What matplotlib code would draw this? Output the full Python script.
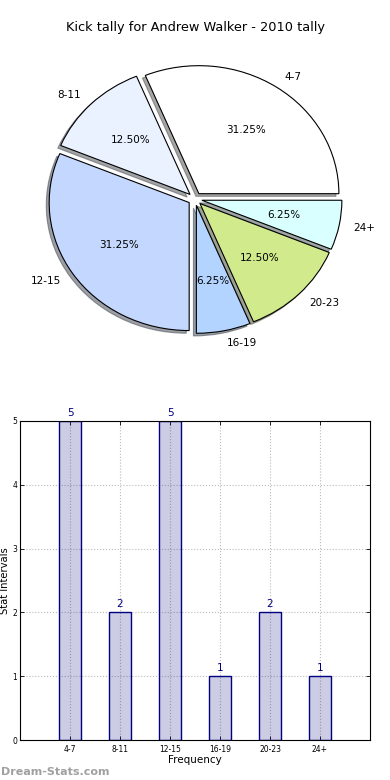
import matplotlib
matplotlib.use('Agg')
import matplotlib.pyplot as plt


# Kick tally per interval
categories = ['4-7', '8-11', '12-15', '16-19', '20-23', '24+']
counts = [5, 2, 5, 1, 2, 1]
wedge_colors = ['#ffffff', '#eaf1ff', '#c4d7ff', '#b3d4ff', '#d0ea8c', '#d9ffff']
title = 'Kick tally for Andrew Walker - 2010 tally'

fig = plt.figure(figsize=(3.9, 7.8), dpi=100)

# Pie on top, old-style stretched (no equal aspect)
ax1 = fig.add_axes([20 / 390, 1 - 359 / 780, 350 / 390, 320 / 780])
wedges, texts, autotexts = ax1.pie(
    counts,
    labels=categories,
    colors=wedge_colors,
    explode=[0.05] * len(counts),
    autopct='%.2f%%',
    shadow={'ox': -0.015, 'oy': -0.015},
    wedgeprops=dict(edgecolor='black', linewidth=0.8),
    textprops=dict(fontsize=7.5),
)
ax1.set_aspect('auto')
ax1.set_xlim(-1.25, 1.25)
ax1.set_ylim(-1.25, 1.25)
ax1.set_title(title, fontsize=9.3, pad=6)

# Bar chart below; translucent faces let the grid show through
ax2 = fig.add_axes([20 / 390, 40 / 780, 350 / 390, 319 / 780])
x = range(len(categories))
ax2.bar(x, counts, width=0.45, facecolor=(0, 0, 0.5, 0.2),
        edgecolor='navy', linewidth=1.0)
for i, c in zip(x, counts):
    ax2.text(i, c + 0.05, str(c), ha='center', va='bottom',
             color='navy', fontsize=7.5)
ax2.set_xlim(-1, 6)
ax2.set_ylim(0, 5)
ax2.set_xticks(list(x))
ax2.set_xticklabels(categories, fontsize=5.5)
ax2.set_yticks(range(6))
ax2.tick_params(axis='y', labelsize=5.5, pad=2)
ax2.tick_params(direction='in', top=True, right=True, length=3, width=0.6)
ax2.set_axisbelow(True)
ax2.grid(True, linestyle=':', color='#bbbbbb', linewidth=0.8)
ax2.set_xlabel('Frequency', fontsize=7.5, labelpad=1)
ax2.set_ylabel('Stat Intervals', fontsize=7.2)
ax2.yaxis.set_label_coords(-0.028, 0.5)

fig.text(0.002, 0.004, 'Dream-Stats.com', fontsize=8, fontweight='bold',
         color='#a0a0a0', ha='left', va='bottom')

fig.savefig('out.png', dpi=100)
